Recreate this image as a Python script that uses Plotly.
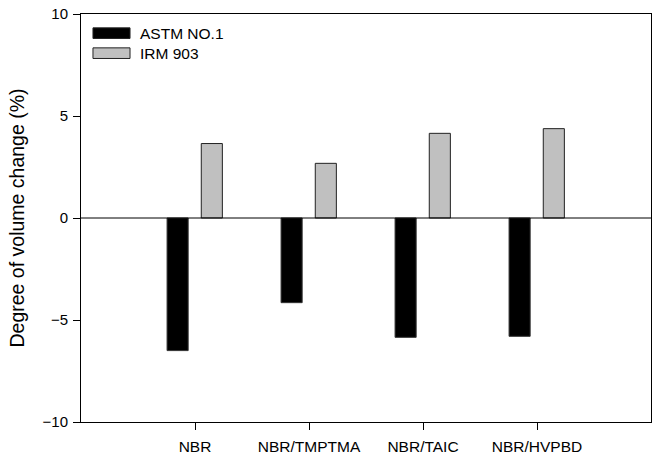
import plotly.graph_objects as go

# Volume change data for the two test oils
categories = ["NBR", "NBR/TMPTMA", "NBR/TAIC", "NBR/HVPBD"]
astm_no1 = [-6.5, -4.15, -5.85, -5.8]
irm_903 = [3.65, 2.68, 4.15, 4.38]
series_names = ["ASTM NO.1", "IRM 903"]
y_ticks = [-10, -5, 0, 5, 10]

positions = [1, 2, 3, 4]
bar_w = 0.185

fig = go.Figure()
fig.add_trace(go.Bar(
    x=positions, y=astm_no1, name=series_names[0],
    width=bar_w, offset=-0.245,
    marker=dict(color="black", line=dict(color="#333333", width=1)),
))
fig.add_trace(go.Bar(
    x=positions, y=irm_903, name=series_names[1],
    width=bar_w, offset=0.055,
    marker=dict(color="#c0c0c0", line=dict(color="#222222", width=1)),
))

font_family = "Liberation Sans, Arial, sans-serif"

# Legend drawn as wide swatches in the upper-left corner
legend_items = [(series_names[0], "black"), (series_names[1], "#c0c0c0")]
for i, (label, col) in enumerate(legend_items):
    y_top = 0.966 - i * 0.049
    fig.add_shape(type="rect", xref="paper", yref="paper",
                  x0=0.021, x1=0.086, y0=y_top - 0.026, y1=y_top,
                  fillcolor=col, line=dict(color="#222222", width=1))
    fig.add_annotation(xref="paper", yref="paper", x=0.1, y=y_top - 0.013,
                       text=label, showarrow=False, xanchor="left", yanchor="middle",
                       font=dict(size=15.5, color="black", family=font_family))

# Zero reference line
fig.add_shape(type="line", xref="paper", yref="y", x0=0, x1=1, y0=0, y1=0,
              line=dict(color="black", width=1), layer="above")

fig.update_layout(
    width=653, height=455,
    margin=dict(l=81, r=2, t=14, b=33, autoexpand=False),
    plot_bgcolor="white", paper_bgcolor="white",
    showlegend=False,
    font=dict(family=font_family, color="black", size=15),
    xaxis=dict(
        range=[0, 5], tickmode="array", tickvals=positions, ticktext=categories,
        showgrid=False, zeroline=False, showline=True, linecolor="black",
        linewidth=1, mirror=True, ticks="outside", ticklen=7, tickcolor="black",
        tickfont=dict(size=15.5), ticklabelstandoff=3, automargin=False,
    ),
    yaxis=dict(
        range=[-10, 10], tickmode="array", tickvals=y_ticks,
        showgrid=False, zeroline=False, showline=True, linecolor="black",
        linewidth=1, mirror=True, ticks="outside", ticklen=7, tickcolor="black",
        tickfont=dict(size=15), ticklabelstandoff=2, automargin=False,
        title=dict(text="Degree of volume change (%)", font=dict(size=19.5), standoff=12),
    ),
)

fig.write_html("out.html")
